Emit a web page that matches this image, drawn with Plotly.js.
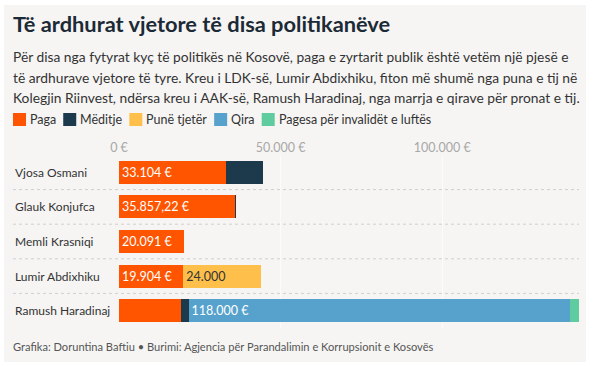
<!DOCTYPE html>
<html>
<head>
<meta charset="utf-8">
<script src="https://cdn.plot.ly/plotly-3.0.1.min.js"></script>
<style>
html,body{margin:0;padding:0;background:#ffffff;}
#chart{width:595px;height:366px;}
</style>
</head>
<body>
<div id="chart"></div>
<script>
// ---- DATA ----
const politicians = ["Vjosa Osmani", "Glauk Konjufca", "Memli Krasniqi", "Lumir Abdixhiku", "Ramush Haradinaj"];
const seriesNames = ["Paga", "Mëditje", "Punë tjetër", "Qira", "Pagesa për invalidët e luftës"];
const paga       = [33104, 35857.22, 20091, 19904, 19300];
const meditje    = [11500, 300, 0, 0, 2200];
const puneTjeter = [0, 0, 0, 24000, 0];
const qira       = [0, 0, 0, 0, 118000];
const pagesa     = [0, 0, 0, 0, 2800];
const pagaLabels  = ["33.104 €", "35.857,22 €", "20.091 €", "19.904 €", ""];
const puneLabels  = ["", "", "", "24.000", ""];
const qiraLabels  = ["", "", "", "", "118.000 €"];
const tickValues = [0, 50000, 100000];
const tickLabels = ["0 €", "50.000 €", "100.000 €"];

const titleText = "Të ardhurat vjetore të disa politikanëve";
const subtitleLines = [
  "Për disa nga fytyrat kyç të politikës në Kosovë, paga e zyrtarit publik është vetëm një pjesë e",
  "të ardhurave vjetore të tyre. Kreu i LDK-së, Lumir Abdixhiku, fiton më shumë nga puna e tij në",
  "Kolegjin Riinvest, ndërsa kreu i AAK-së, Ramush Haradinaj, nga marrja e qirave për pronat e tij."
];
const footerText = "Grafika: Doruntina Baftiu • Burimi: Agjencia për Parandalimin e Korrupsionit e Kosovës";

// ---- STYLE ----
const colors = ["#ff5400", "#1c3a4b", "#fec04b", "#56a2cd", "#5ecc9f"];
const FONT = "Lato, 'DejaVu Sans', sans-serif";
const W = 595, H = 366;
const M = {l: 119, r: 16, t: 155, b: 38};
const PW = W - M.l - M.r, PH = H - M.t - M.b;
const px = x => (x - M.l) / PW;
const py = y => (H - M.b - y) / PH;

const series = [paga, meditje, puneTjeter, qira, pagesa];
const labels = [pagaLabels, null, puneLabels, qiraLabels, null];
const textColors = ["#ffffff", "#ffffff", "#333333", "#ffffff", "#ffffff"];

const traces = series.map((vals, i) => ({
  type: "bar",
  orientation: "h",
  name: seriesNames[i],
  y: politicians,
  x: vals,
  marker: {color: colors[i], line: {width: 0}},
  text: labels[i] || vals.map(() => ""),
  textposition: "inside",
  insidetextanchor: "start",
  constraintext: "none",
  textfont: {family: FONT, size: 12.5, color: textColors[i]},
  hoverinfo: "skip",
  showlegend: false
}));

const totalMax = Math.max(...politicians.map((_, k) => series.reduce((s, a) => s + a[k], 0)));

function ann(text, x, y, size, color, extra) {
  return Object.assign({
    xref: "paper", yref: "paper", x: px(x), y: py(y),
    xanchor: "left", yanchor: "middle", showarrow: false, text: text,
    font: {family: FONT, size: size, color: color}, borderpad: 0
  }, extra || {});
}

const annotations = [];
const shapes = [];

// background panel
shapes.push({type: "rect", xref: "paper", yref: "paper", x0: px(4), x1: px(586), y0: py(362), y1: py(5),
  fillcolor: "#f6f5f3", line: {width: 0}, layer: "below"});

annotations.push(ann("<b>" + titleText + "</b>", 12, 23, 21.8, "#1b2a36"));
subtitleLines.forEach((l, i) => annotations.push(ann(l, 12, 57 + i * 20.3, 13.8, "#333333")));
annotations.push(ann(footerText, 12, 346, 11.1, "#555555"));

// legend built from series names & colors
const cv = document.createElement("canvas").getContext("2d");
cv.font = "12.5px Lato";
let lx = 13;
seriesNames.forEach((n, i) => {
  shapes.push({type: "rect", xref: "paper", yref: "paper", x0: px(lx), x1: px(lx + 13), y0: py(126), y1: py(113),
    fillcolor: colors[i], line: {width: 0}});
  annotations.push(ann(n, lx + 16, 119.5, 12.5, "#333333"));
  lx += 16 + cv.measureText(n).width + 8;
});

// category labels (left aligned)
politicians.forEach((p, i) => annotations.push({
  xref: "paper", yref: "y", x: px(13), y: i, xanchor: "left", yanchor: "middle",
  showarrow: false, text: p, font: {family: FONT, size: 12, color: "#333333"}
}));

// dotted row separators
for (let i = 0; i < politicians.length - 1; i++) {
  shapes.push({type: "line", xref: "paper", yref: "y", x0: px(13), x1: 1, y0: i + 0.5, y1: i + 0.5,
    line: {color: "#cfcfcf", width: 1, dash: "dot"}});
}

const layout = {
  width: W, height: H,
  margin: M,
  paper_bgcolor: "#ffffff",
  plot_bgcolor: "rgba(0,0,0,0)",
  barmode: "stack",
  bargap: 0.335,
  showlegend: false,
  font: {family: FONT},
  xaxis: {
    range: [0, totalMax], side: "top",
    tickvals: tickValues, ticktext: tickLabels,
    tickfont: {family: FONT, size: 12.5, color: "#a8a8a8"},
    showgrid: true, gridcolor: "rgba(255,255,255,0.55)", gridwidth: 1,
    layer: "above traces", zeroline: false, showline: false, ticks: "",
    fixedrange: true
  },
  yaxis: {
    type: "category", autorange: "reversed", showticklabels: false,
    showgrid: false, zeroline: false, showline: false, fixedrange: true
  },
  annotations: annotations,
  shapes: shapes
};

Plotly.newPlot("chart", traces, layout, {displayModeBar: false, staticPlot: true});
</script>
</body>
</html>
